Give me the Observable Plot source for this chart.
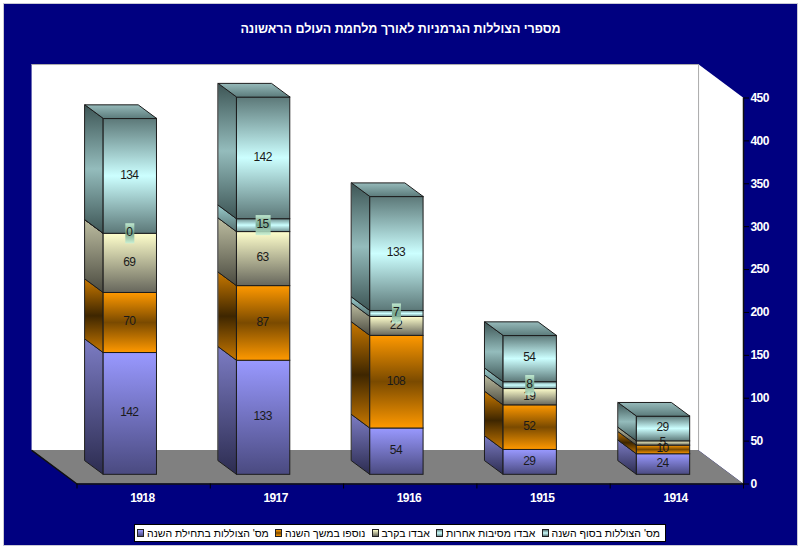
<!DOCTYPE html>
<html lang="he">
<head>
<meta charset="utf-8">
<script src="https://cdn.jsdelivr.net/npm/d3@7"></script>
<script src="https://cdn.jsdelivr.net/npm/@observablehq/plot@0.6"></script>
<style>
  html, body { margin: 0; padding: 0; background: #fff; }
  #frame { position: absolute; left: 3px; top: 3px; width: 793px; height: 541px; background: #000080;
           border: 1px solid #c9c9d6; overflow: hidden; font-family: "Liberation Sans", Arial, sans-serif; }
  #title { position: absolute; left: 0; right: 0; top: 15px; height: 20px; line-height: 20px; text-align: center;
           color: #fff; font-size: 12.5px; font-weight: bold; direction: rtl; }
  #chart { position: absolute; left: -4px; top: 46px; width: 800px; }
  #chart svg { max-width: none; }
  #legend { position: absolute; left: 130px; top: 520px; width: 532px; height: 18px; box-sizing: border-box; background: #fff; border: 1px solid #000;
            display: flex; align-items: center; justify-content: space-between; padding: 0 5px 0 2px; }
  .item { display: flex; align-items: center; gap: 3px; font-size: 10.5px; color: #000; white-space: nowrap; }
  .sw { width: 5px; height: 6px; border: 1px solid #222; display: inline-block; }
  .lab { direction: rtl; }
  .tight text { letter-spacing: -0.6px; }
</style>
</head>
<body>
<div id="frame">
  <div id="title"></div>
  <div id="chart"></div>
  <div id="legend"></div>
</div>
<script>
const chartTitle = "מספרי הצוללות הגרמניות לאורך מלחמת העולם הראשונה";
const years = ["1918", "1917", "1916", "1915", "1914"];
const seriesNames = ["מס' הצוללות בתחילת השנה", "נוספו במשך השנה", "אבדו בקרב", "אבדו מסיבות אחרות", "מס' הצוללות בסוף השנה"];
const startOfYear = [142, 133, 54, 29, 24];
const addedInYear = [70, 87, 108, 52, 10];
const lostInBattle = [69, 63, 22, 19, 5];
const lostOther = [0, 15, 7, 8, null];
const endOfYear = [134, 142, 133, 54, 29];
const seriesValues = [startOfYear, addedInYear, lostInBattle, lostOther, endOfYear];
const yTicks = [0, 50, 100, 150, 200, 250, 300, 350, 400, 450];

const frontStops = [
  ["#9999ff", "#4a4a80"],
  ["#ff9900", "#7a4a00", "#ff9900"],
  ["#ffffcc", "#66665c"],
  ["#6f9090", "#ccffff", "#6f9090"],
  ["#5c7878", "#ccffff", "#5c7878"]
];
const sideStops = [
  ["#7c7cc4", "#2c2c50"],
  ["#c87800", "#3e2600", "#c87800"],
  ["#bdbda0", "#4a4a40"],
  ["#99cccc", "#557070"],
  ["#3d5555", "#94bcbc", "#3d5555"]
];
const topStops = ["#96baba", "#5c7c7c"];
const boxStops = ["#c8f2d6", "#6f9f86", "#c8f2d6"];

// geometry in scale units (x: category index, y: submarines)
const barFrom = 0.2, barTo = 0.6;       // front face inside a category
const baseY = 10.7;                     // front of bars above the axis line
const depthX = 0.137, depthY = 15.75;   // bar depth
const wallX = 0.337, wallY = 39;        // chart depth
const yMax = 450, nCat = years.length;

document.getElementById("title").textContent = chartTitle;

function gradient(defs, id, stops) {
  const g = defs.append("linearGradient").attr("id", id).attr("x1", 0).attr("y1", 0).attr("x2", 0).attr("y2", 1);
  stops.forEach((c, i) => g.append("stop").attr("offset", i / (stops.length - 1)).attr("stop-color", c));
}
const defsMark = () => {
  const defs = d3.create("svg:defs");
  frontStops.forEach((s, i) => gradient(defs, "front" + i, s));
  sideStops.forEach((s, i) => gradient(defs, "side" + i, s));
  gradient(defs, "topFace", topStops);
  gradient(defs, "labelBox", boxStops);
  return defs.node();
};

// stacked segments
const segments = [];
years.forEach((year, c) => {
  let acc = baseY;
  seriesValues.forEach((vals, s) => {
    const v = vals[c];
    if (v == null) return;
    segments.push({c, s, v, lo: acc, hi: acc + v, key: c + "-" + s});
    acc += v;
  });
});
const tops = years.map((_, c) => d3.max(segments.filter(d => d.c === c), d => d.hi));

const sideMarks = frontStops.map((_, s) => {
  const pts = segments.filter(d => d.s === s).flatMap(d => [
    {key: d.key, x: d.c + barFrom - depthX, y1: d.lo + depthY, y2: d.hi + depthY},
    {key: d.key, x: d.c + barFrom, y1: d.lo, y2: d.hi}
  ]);
  return Plot.areaY(pts, {x: "x", y1: "y1", y2: "y2", z: "key", fill: `url(#side${s})`, stroke: "#1c1c1c", strokeWidth: 1});
});
const frontMarks = frontStops.map((_, s) =>
  Plot.rect(segments.filter(d => d.s === s), {
    x1: d => d.c + barFrom, x2: d => d.c + barTo, y1: "lo", y2: "hi",
    fill: `url(#front${s})`, stroke: "#1c1c1c", strokeWidth: 1
  }));
const topPts = tops.flatMap((t, c) => [
  {key: c, y: t, x1: c + barFrom, x2: c + barTo},
  {key: c, y: t + depthY, x1: c + barFrom - depthX, x2: c + barTo - depthX}
]);

const mid = d => (d.lo + d.hi) / 2;
const labelMarks = frontStops.flatMap((_, s) => {
  const segs = segments.filter(d => d.s === s);
  const marks = [];
  if (s === 3) {
    marks.push(Plot.rect(segs, {
      x1: d => d.c + (barFrom + barTo) / 2 - (String(d.v).length * 6 + 3) / 2 / 133.3,
      x2: d => d.c + (barFrom + barTo) / 2 + (String(d.v).length * 6 + 3) / 2 / 133.3,
      y1: d => mid(d) - 11.7, y2: d => mid(d) + 11.7,
      fill: "url(#labelBox)", fillOpacity: 0.9
    }));
  }
  marks.push(Plot.text(segs, {
    x: d => d.c + (barFrom + barTo) / 2, y: mid, text: d => String(d.v),
    dx: -1, dy: -1.5,
    fill: "#1a1a1a", fontSize: 12, fontFamily: "Liberation Sans", className: "tight"
  }));
  return marks;
});

const chart = Plot.plot({
  width: 800, height: 465,
  marginLeft: 76.5, marginRight: 57, marginTop: 47.5, marginBottom: 31.5,
  style: {background: "transparent", overflow: "visible", fontFamily: "Liberation Sans", fontSize: "12px"},
  x: {type: "linear", domain: [0, nCat]},
  y: {type: "linear", domain: [0, yMax]},
  marks: [
    defsMark,
    // back wall
    Plot.rect([0], {x1: -wallX, x2: nCat - wallX, y1: wallY, y2: yMax + wallY, fill: "#fff"}),
    // right wall
    Plot.areaY([{x: nCat - wallX, y1: wallY, y2: yMax + wallY}, {x: nCat, y1: 0, y2: yMax}],
      {x: "x", y1: "y1", y2: "y2", fill: "#fff"}),
    Plot.ruleX([nCat - wallX], {y1: wallY, y2: yMax + wallY, stroke: "#aaa"}),
    Plot.ruleY([yMax + wallY], {x1: -wallX, x2: nCat - wallX, stroke: "#aaa"}),
    // floor
    Plot.areaX([{y: 0, x1: 0, x2: nCat}, {y: wallY, x1: -wallX, x2: nCat - wallX}],
      {y: "y", x1: "x1", x2: "x2", fill: "#808080"}),
    Plot.line([{x: -wallX, y: wallY}, {x: 0, y: 0}, {x: nCat, y: 0}], {x: "x", y: "y", stroke: "#111"}),
    Plot.line([{x: nCat, y: 0}, {x: nCat, y: yMax}], {x: "x", y: "y", stroke: "#111"}),
    // bars
    ...sideMarks,
    ...frontMarks,
    Plot.areaX(topPts, {y: "y", x1: "x1", x2: "x2", z: "key", fill: "url(#topFace)", stroke: "#1c1c1c", strokeWidth: 1}),
    ...labelMarks,
    // axes
    Plot.axisY(yTicks, {anchor: "right", tickSize: 5, tickPadding: 2, stroke: "#000", fill: "#fff", fontWeight: "bold", fontSize: 12, label: null, className: "tight"}),
    Plot.axisX(d3.range(nCat + 1), {anchor: "bottom", tickSize: 5, stroke: "#000", tickFormat: () => "", label: null}),
    Plot.axisX(years.map((_, i) => i + 0.49), {anchor: "bottom", tickSize: 0, tickPadding: 9, fill: "#fff", stroke: "none",
      fontWeight: "bold", fontSize: 12, tickFormat: d => years[Math.floor(d)], label: null, className: "tight"})
  ]
});
document.getElementById("chart").appendChild(chart);

const legend = d3.select("#legend");
seriesNames.forEach((name, s) => {
  const item = legend.append("div").attr("class", "item");
  const stops = frontStops[s];
  item.append("span").attr("class", "sw").style("background", `linear-gradient(${stops.join(",")})`);
  item.append("span").attr("class", "lab").text(name);
});
</script>
</body>
</html>
